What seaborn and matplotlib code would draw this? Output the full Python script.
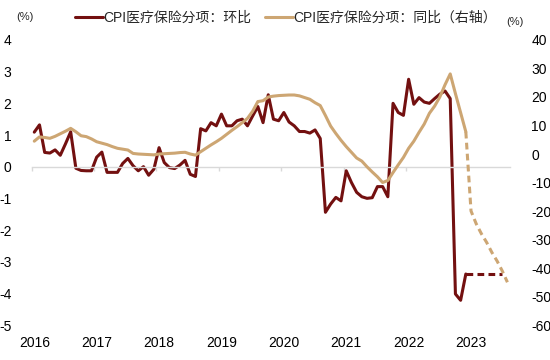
import matplotlib
matplotlib.use("Agg")
import matplotlib.pyplot as plt
import seaborn as sns
import numpy as np
import pandas as pd

# CPI医疗保险分项：环比 (%), 2016-01 ~ 2022-12，实际值
mom_actual = [1.09, 1.32, 0.45, 0.43, 0.53, 0.36, 0.72, 1.10, -0.05, -0.12, -0.13, -0.13,
              0.30, 0.46, -0.18, -0.18, -0.18, 0.10, 0.26, 0.03, -0.13, 0.00, -0.27, -0.08,
              0.60, 0.13, -0.03, -0.06, 0.05, 0.20, -0.24, -0.31, 1.20, 1.13, 1.39, 1.29,
              1.66, 1.29, 1.29, 1.45, 1.50, 1.29, 1.60, 1.90, 1.39, 2.27, 1.50, 1.45,
              1.71, 1.41, 1.29, 1.11, 1.11, 1.06, 1.16, 0.89, -1.44, -1.18, -0.97, -1.08,
              -0.13, -0.50, -0.81, -0.95, -1.00, -0.98, -0.63, -0.63, -0.95, 2.00, 1.71, 1.62,
              2.76, 1.97, 2.18, 2.04, 2.00, 2.15, 2.29, 2.39, 2.15, -4.02, -4.22, -3.39]
# 预测值（虚线）
mom_forecast = [-3.39, -3.39, -3.39, -3.39, -3.39, -3.39, -3.39]

# CPI医疗保险分项：同比 (%)，右轴
yoy_actual = [4.5, 6.0, 5.8, 5.5, 6.2, 7.1, 8.0, 9.0, 7.8, 6.4, 6.1, 5.3,
              4.3, 3.8, 3.3, 2.6, 2.0, 1.7, 1.4, 0.2, 0.0, -0.1, -0.2, -0.3,
              0.0, 0.1, 0.2, 0.3, 0.5, 0.6, 0.0, -0.4, 0.8, 2.0, 3.2, 4.3,
              5.5, 6.9, 8.3, 9.6, 11.0, 12.5, 15.0, 18.4, 18.7, 20.0, 20.3, 20.5,
              20.6, 20.7, 20.7, 20.4, 19.8, 19.2, 18.0, 17.0, 13.5, 9.8, 7.2, 4.8,
              2.6, 0.6, -1.4, -2.5, -4.5, -6.3, -8.0, -10.0, -9.3, -6.5, -3.8, -1.2,
              2.0, 4.5, 7.6, 10.5, 14.3, 16.8, 20.0, 24.3, 28.1, 21.2, 14.5, 7.8]
yoy_forecast = [-20.0, -24.5, -28.0, -31.0, -34.5, -37.5, -41.0, -45.0]

years = ["2016", "2017", "2018", "2019", "2020", "2021", "2022", "2023"]
mom_label = "CPI医疗保险分项：环比"
yoy_label = "CPI医疗保险分项：同比（右轴）"

RED = "#731010"
TAN = "#CDA673"
GRID = "#d9d9d9"

sns.set_theme(style="white")
plt.rcParams["font.family"] = ["Liberation Sans", "Noto Sans CJK SC", "DejaVu Sans"]
plt.rcParams["axes.unicode_minus"] = False

n_act = len(mom_actual)
x_act = np.arange(n_act)
x_mom_fc = np.arange(n_act - 1, n_act + len(mom_forecast))
x_yoy_fc = np.arange(n_act - 1, n_act + len(yoy_forecast))

df_act = pd.DataFrame({"x": x_act, "mom": mom_actual, "yoy": yoy_actual})
df_mom_fc = pd.DataFrame({"x": x_mom_fc, "mom": [mom_actual[-1]] + mom_forecast})
df_yoy_fc = pd.DataFrame({"x": x_yoy_fc, "yoy": [yoy_actual[-1]] + yoy_forecast})

fig = plt.figure(figsize=(5.5, 3.6), dpi=100)
ax = fig.add_axes([0.0576, 0.0972, 0.8697, 0.7917])
ax2 = ax.twinx()

lw = 2.2
sns.lineplot(data=df_act, x="x", y="mom", ax=ax, color=RED, linewidth=lw, label=mom_label)
sns.lineplot(data=df_mom_fc, x="x", y="mom", ax=ax, color=RED, linewidth=lw,
             linestyle=(0, (2.2, 1.4)))
sns.lineplot(data=df_act, x="x", y="yoy", ax=ax2, color=TAN, linewidth=lw, label=yoy_label)
sns.lineplot(data=df_yoy_fc, x="x", y="yoy", ax=ax2, color=TAN, linewidth=lw,
             linestyle=(0, (2.2, 1.4)))

for a in (ax, ax2):
    a.set_xlabel("")
    a.set_ylabel("")
    if a.get_legend() is not None:
        a.get_legend().remove()

ax.set_xlim(-0.5, n_act + len(yoy_forecast) - 0.5)
ax.set_ylim(-5, 4)
ax.set_yticks(range(-5, 5))
ax.set_yticklabels([str(v) for v in range(-5, 5)])
ax2.set_ylim(-60, 40)
ax2.set_yticks(range(-60, 41, 10))
ax2.set_yticklabels([str(v) for v in range(-60, 41, 10)])

for s in ["top", "left", "right"]:
    ax.spines[s].set_visible(False)
for s in ax2.spines.values():
    s.set_visible(False)
ax.spines["bottom"].set_position(("data", 0))
ax.spines["bottom"].set_color(GRID)
ax.spines["bottom"].set_linewidth(1.0)

# ticks on the zero line, year labels at the bottom
ax.set_xticks([12 * k - 0.5 for k in range(len(years))])
ax.tick_params(axis="x", bottom=True, direction="out", length=3, width=1,
               color=GRID, labelbottom=False)
ax.tick_params(axis="y", left=False, labelsize=10, pad=8.5, colors="black")
ax2.tick_params(axis="y", right=False, labelsize=10, pad=9.3, colors="black")

sec = ax.secondary_xaxis("bottom")
sec.set_xticks([12 * k for k in range(len(years))])
sec.set_xticklabels(years)
sec.tick_params(length=0, labelsize=10, pad=8, colors="black")
for s in sec.spines.values():
    s.set_visible(False)

handles = ax.get_lines()[:1] + ax2.get_lines()[:1]
fig.legend(handles, [mom_label, yoy_label], loc="center", bbox_to_anchor=(0.52, 0.95),
           ncol=2, frameon=False, fontsize=10, handlelength=2.0,
           handletextpad=0.05, columnspacing=1.0)

fig.text(24.5 / 550, 1 - 16.5 / 360, "(%)", ha="center", va="center", fontsize=8)
fig.text(515 / 550, 1 - 22 / 360, "(%)", ha="center", va="center", fontsize=8)

fig.savefig("out.png", dpi=100)
